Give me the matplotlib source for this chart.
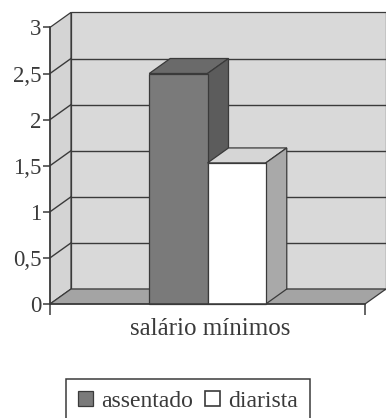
import matplotlib
matplotlib.use("Agg")
import matplotlib.pyplot as plt
from matplotlib.patches import Polygon, Patch

plt.rcParams['font.family'] = ['Liberation Serif', 'DejaVu Serif']

# data
categories = ["salário mínimos"]
series_names = ["assentado", "diarista"]
assentado = [2.5]
diarista = [1.53]
y_ticks = [0, 0.5, 1, 1.5, 2, 2.5, 3]
y_tick_labels = ["0", "0,5", "1", "1,5", "2", "2,5", "3"]

W, H = 386, 418
fig = plt.figure(figsize=(W / 100, H / 100), dpi=100)
fig.patch.set_facecolor("white")

# front plane of the 3-D box, in pixels
x0_px, x1_px = 50, 365
y0_px, ytop_px = 304, 27.4
ax = fig.add_axes([x0_px / W, 1 - y0_px / H, (x1_px - x0_px) / W, (y0_px - ytop_px) / H])
ax.set_xlim(0, 1)
ax.set_ylim(0, 3)
ax.patch.set_visible(False)

ink = "#3a3a3a"
# depth offset of the oblique projection (21 px right, 15 px up)
DX = 21 / (x1_px - x0_px)
DY = 15 / ((y0_px - ytop_px) / 3)
YMAX = 3


def poly(pts, fc, ec=ink, lw=0.9, z=1):
    p = Polygon(pts, closed=True, facecolor=fc, edgecolor=ec, linewidth=lw,
                clip_on=False, zorder=z, joinstyle="miter")
    ax.add_patch(p)


# walls and floor
poly([(DX, DY), (1 + DX, DY), (1 + DX, YMAX + DY), (DX, YMAX + DY)], "#d9d9d9", z=1)
poly([(0, 0), (DX, DY), (DX, YMAX + DY), (0, YMAX)], "#d4d4d4", z=1)
poly([(0, 0), (1, 0), (1 + DX, DY), (DX, DY)], "#a4a4a4", z=1)

# gridlines on back and side walls
for v in y_ticks[1:-1]:
    ax.plot([DX, 1 + DX], [v + DY, v + DY], color=ink, lw=1.0, clip_on=False, zorder=2)
    ax.plot([0, DX], [v, v + DY], color=ink, lw=1.0, clip_on=False, zorder=2)

# bars
bar_w = 0.185
centre = 0.5
bar_specs = [
    (assentado[0], centre - bar_w, ("#7a7a7a", "#6a6a6a", "#5c5c5c")),
    (diarista[0], centre, ("#ffffff", "#d6d6d6", "#a9a9a9")),
]
z = 3
for val, left, (front, top, side) in bar_specs:
    right = left + bar_w
    poly([(left, val), (right, val), (right + DX, val + DY), (left + DX, val + DY)], top, z=z)
    poly([(right, 0), (right + DX, DY), (right + DX, val + DY), (right, val)], side, z=z)
    poly([(left, 0), (right, 0), (right, val), (left, val)], front, z=z)
    z += 1

# axes lines and ticks
for s in ["top", "right"]:
    ax.spines[s].set_visible(False)
for s in ["left", "bottom"]:
    ax.spines[s].set_color(ink)
    ax.spines[s].set_linewidth(1.1)
    ax.spines[s].set_zorder(10)

ax.set_yticks(y_ticks)
ax.set_yticklabels(y_tick_labels)
ax.tick_params(axis="y", direction="out", length=5, width=1.1, color=ink,
               labelsize=16.5, labelcolor=ink, pad=1)
ax.set_xticks([0, 1])
ax.set_xticklabels(["", ""])
ax.set_xticks([0.508], minor=True)
ax.set_xticklabels(categories, minor=True)
ax.tick_params(axis="x", which="major", direction="out", length=8, width=1.1, color=ink)
ax.tick_params(axis="x", which="minor", length=0, labelsize=18, labelcolor=ink, pad=10)

handles = [Patch(facecolor="#7a7a7a", edgecolor=ink, linewidth=0.9),
           Patch(facecolor="#ffffff", edgecolor=ink, linewidth=1.2)]
leg = fig.legend(handles, series_names, loc="upper left",
                 bbox_to_anchor=(66 / W, 1 - 379 / H), ncol=2, fontsize=17,
                 frameon=True, fancybox=False, edgecolor=ink, framealpha=1,
                 handlelength=0.64, handleheight=0.64, handletextpad=0.35,
                 columnspacing=0.5, borderpad=0.5, borderaxespad=0)
leg.get_frame().set_linewidth(1.1)
for t in leg.get_texts():
    t.set_color(ink)

fig.savefig("out.png", dpi=100)
